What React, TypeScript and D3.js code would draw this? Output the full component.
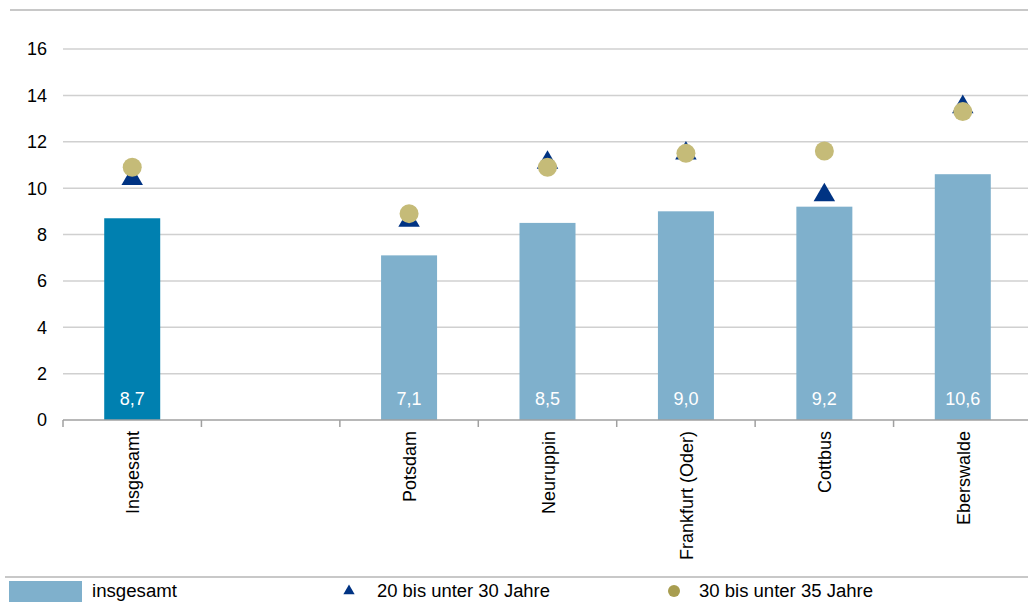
import React from "react";
import * as d3 from "d3";

const categories = ["Insgesamt", "", "Potsdam", "Neuruppin", "Frankfurt (Oder)", "Cottbus", "Eberswalde"];
const totalValues: (number | null)[] = [8.7, null, 7.1, 8.5, 9.0, 9.2, 10.6];
const age20to30: (number | null)[] = [10.4, null, 8.6, 11.1, 11.5, 9.7, 13.5];
const age30to35: (number | null)[] = [10.9, null, 8.9, 10.9, 11.5, 11.6, 13.3];
const yTicks = [0, 2, 4, 6, 8, 10, 12, 14, 16];
const legendLabels = ["insgesamt", "20 bis unter 30 Jahre", "30 bis unter 35 Jahre"];

const W = 1028, H = 602;
const left = 63, right = 1032, top = 49, bottom = 420;

export default function App() {
  const x = d3.scaleBand<number>().domain(d3.range(categories.length)).range([left, right]).paddingInner(0).paddingOuter(0);
  const y = d3.scaleLinear().domain([0, 16]).range([bottom, top]);
  const bw = 56;
  const font = "'Liberation Sans', Arial, sans-serif";
  const tri = d3.symbol().type(d3.symbolTriangle).size(200)()!;
  const triSmall = d3.symbol().type(d3.symbolTriangle).size(55)()!;
  const fmt = (v: number) => v.toFixed(1).replace(".", ",");
  return (
    <svg width={W} height={H} style={{ position: "absolute", left: 0, top: 0, background: "#fff" }} fontFamily={font}>
      <line x1={10} x2={W} y1={10} y2={10} stroke="#c8c8c8" strokeWidth={2} />
      {yTicks.map((t) => (
        <g key={t}>
          {t > 0 && <line x1={left} x2={W} y1={y(t)} y2={y(t)} stroke="#d0d0d0" strokeWidth={1.5} />}
          <text x={47} y={y(t)} dy="0.36em" textAnchor="end" fontSize={18} fill="#000">{t}</text>
        </g>
      ))}
      {totalValues.map((v, i) =>
        v == null ? null : (
          <g key={"b" + i}>
            <rect x={x(i)! + x.bandwidth() / 2 - bw / 2} y={y(v)} width={bw} height={y(0) - y(v)} fill={i === 0 ? "#0080b0" : "#7fb0cc"} />
            <text x={x(i)! + x.bandwidth() / 2} y={y(0) - 15} textAnchor="middle" fontSize={18} fill="#fff">{fmt(v)}</text>
          </g>
        )
      )}
      <line x1={left} x2={W} y1={bottom} y2={bottom} stroke="#a0a0a0" strokeWidth={1.5} />
      {d3.range(categories.length).map((i) => (
        <line key={"t" + i} x1={x(i)!} x2={x(i)!} y1={bottom} y2={bottom + 7} stroke="#a0a0a0" strokeWidth={1.5} />
      ))}
      {categories.map((c, i) => (
        <text key={"l" + i} transform={`translate(${x(i)! + x.bandwidth() / 2 + 7},${bottom + 11}) rotate(-90)`} textAnchor="end" fontSize={18} fill="#000">{c}</text>
      ))}
      {age20to30.map((v, i) =>
        v == null ? null : (
          <path key={"tr" + i} d={tri} transform={`translate(${x(i)! + x.bandwidth() / 2},${y(v)})`} fill="#003383" />
        )
      )}
      {age30to35.map((v, i) =>
        v == null ? null : (
          <circle key={"c" + i} cx={x(i)! + x.bandwidth() / 2} cy={y(v)} r={9.5} fill="#c5bb78" />
        )
      )}
      <line x1={5} x2={W} y1={577} y2={577} stroke="#c8c8c8" strokeWidth={2} />
      <rect x={9} y={581} width={73} height={21} fill="#7fb0cc" />
      <text x={92} y={597} fontSize={18} fill="#000" textLength={85} lengthAdjust="spacingAndGlyphs">{legendLabels[0]}</text>
      <path d={triSmall} transform="translate(349,591)" fill="#003383" />
      <text x={377} y={597} fontSize={18} fill="#000" textLength={173} lengthAdjust="spacingAndGlyphs">{legendLabels[1]}</text>
      <circle cx={674} cy={591} r={6} fill="#a89d50" />
      <text x={699} y={597} fontSize={18} fill="#000" textLength={174} lengthAdjust="spacingAndGlyphs">{legendLabels[2]}</text>
    </svg>
  );
}
